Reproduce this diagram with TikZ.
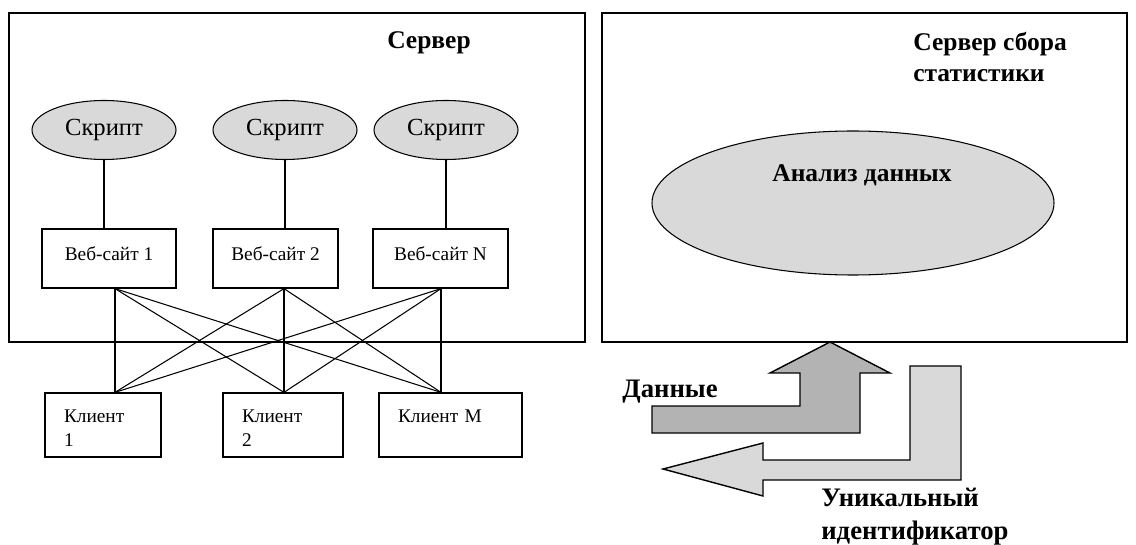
\documentclass[tikz,border=0pt]{standalone}
\usepackage{fontspec}
\setmainfont{Liberation Serif}
\usetikzlibrary{shapes.geometric}

\definecolor{ovalgray}{HTML}{D9D9D9}
\definecolor{arrowgray}{HTML}{B3B3B3}

\tikzset{
    frame/.style={line width=0.8pt},
    script/.style={ellipse, draw, fill=ovalgray, line width=0.6pt, minimum width=2.88cm, minimum height=1.18cm, inner sep=0pt, font=\fontsize{14}{16.5}\selectfont},
    site/.style={draw, line width=0.7pt, minimum height=1.18cm, inner sep=0pt, text height=0.27cm, text depth=0.2cm, font=\fontsize{11}{13.5}\selectfont},
    client/.style={draw, line width=0.7pt, minimum height=1.28cm, inner sep=0pt, align=left, text height=0.27cm, text depth=0.39cm, font=\fontsize{11}{14}\selectfont},
    heading/.style={font=\fontsize{14.5}{18}\selectfont\bfseries, align=left, inner sep=0pt},
    arrowlabel/.style={font=\fontsize{15.2}{18.8}\selectfont\bfseries, align=left, inner sep=0pt},
    wire/.style={line width=0.6pt}
}

\begin{document}
\begin{tikzpicture}
    \useasboundingbox (0,0) rectangle (22.72,10.88);

    % Сервер
    \draw[frame] (0.18,4.04) rectangle (11.70,10.62);
    \node[heading] (srv) at (8.58,10.02) {Сервер};

    % скрипты и веб-сайты
    \foreach \i/\x in {1/2.08,2/5.70,3/8.92}{
        \node[script] (s\i) at (\x,8.28) {Скрипт};
    }
    \foreach \i/\x/\w/\name in {1/2.18/2.68/Веб-сайт 1,2/5.51/2.50/Веб-сайт 2,3/8.81/2.70/Веб-сайт N}{
        \node[site, minimum width=\w cm] (w\i) at (\x,5.71) {\name};
        \draw[wire] (s\i.south) -- (s\i.south |- w\i.north);
    }

    % клиенты
    \foreach \i/\x/\w/\t/\name in {1/2.06/2.32/1.56/{Клиент\\1},2/5.66/2.40/1.64/{Клиент\\2},3/9.01/2.86/2.10/{Клиент M}}{
        \node[client, minimum width=\w cm, text width=\t cm] (c\i) at (\x,2.38) {\name};
    }

    % связи сайт -- клиент
    \foreach \i/\x in {1/2.30,2/5.68,3/8.82}{
        \coordinate (wo\i) at (\x,0 |- w\i.south);
        \coordinate (ci\i) at (\x,0 |- c\i.north);
    }
    \foreach \i in {1,2,3}{
        \foreach \j in {1,2,3}{
            \draw[wire] (wo\i) -- (ci\j);
        }
    }

    % Сервер сбора статистики
    \draw[frame] (12.04,4.04) rectangle (22.54,10.62);
    \node[heading, anchor=west] (stat) at (18.26,9.74) {Сервер сбора\\статистики};
    \node[ellipse, draw, fill=ovalgray, line width=0.6pt, minimum width=8.04cm, minimum height=2.88cm] (an) at (17.06,6.82) {};
    \node[heading] (antitle) at (17.24,7.38) {Анализ данных};

    % стрелки
    \draw[frame, fill=arrowgray] (13.04,2.22) -- (13.04,2.76) -- (16.00,2.76) -- (16.00,3.42) -- (15.40,3.42)
        -- (16.60,4.04) -- (17.80,3.42) -- (17.20,3.42) -- (17.20,2.22) -- cycle;
    \draw[frame, fill=ovalgray] (13.26,1.50) -- (15.26,2.02) -- (15.26,1.68) -- (18.20,1.68) -- (18.20,3.56)
        -- (19.22,3.56) -- (19.22,1.28) -- (15.26,1.28) -- (15.26,0.96) -- cycle;
    \node[arrowlabel] (data) at (13.40,3.04) {Данные};
    \node[arrowlabel, anchor=west] (uid) at (16.42,0.55) {Уникальный\\идентификатор};
\end{tikzpicture}
\end{document}
